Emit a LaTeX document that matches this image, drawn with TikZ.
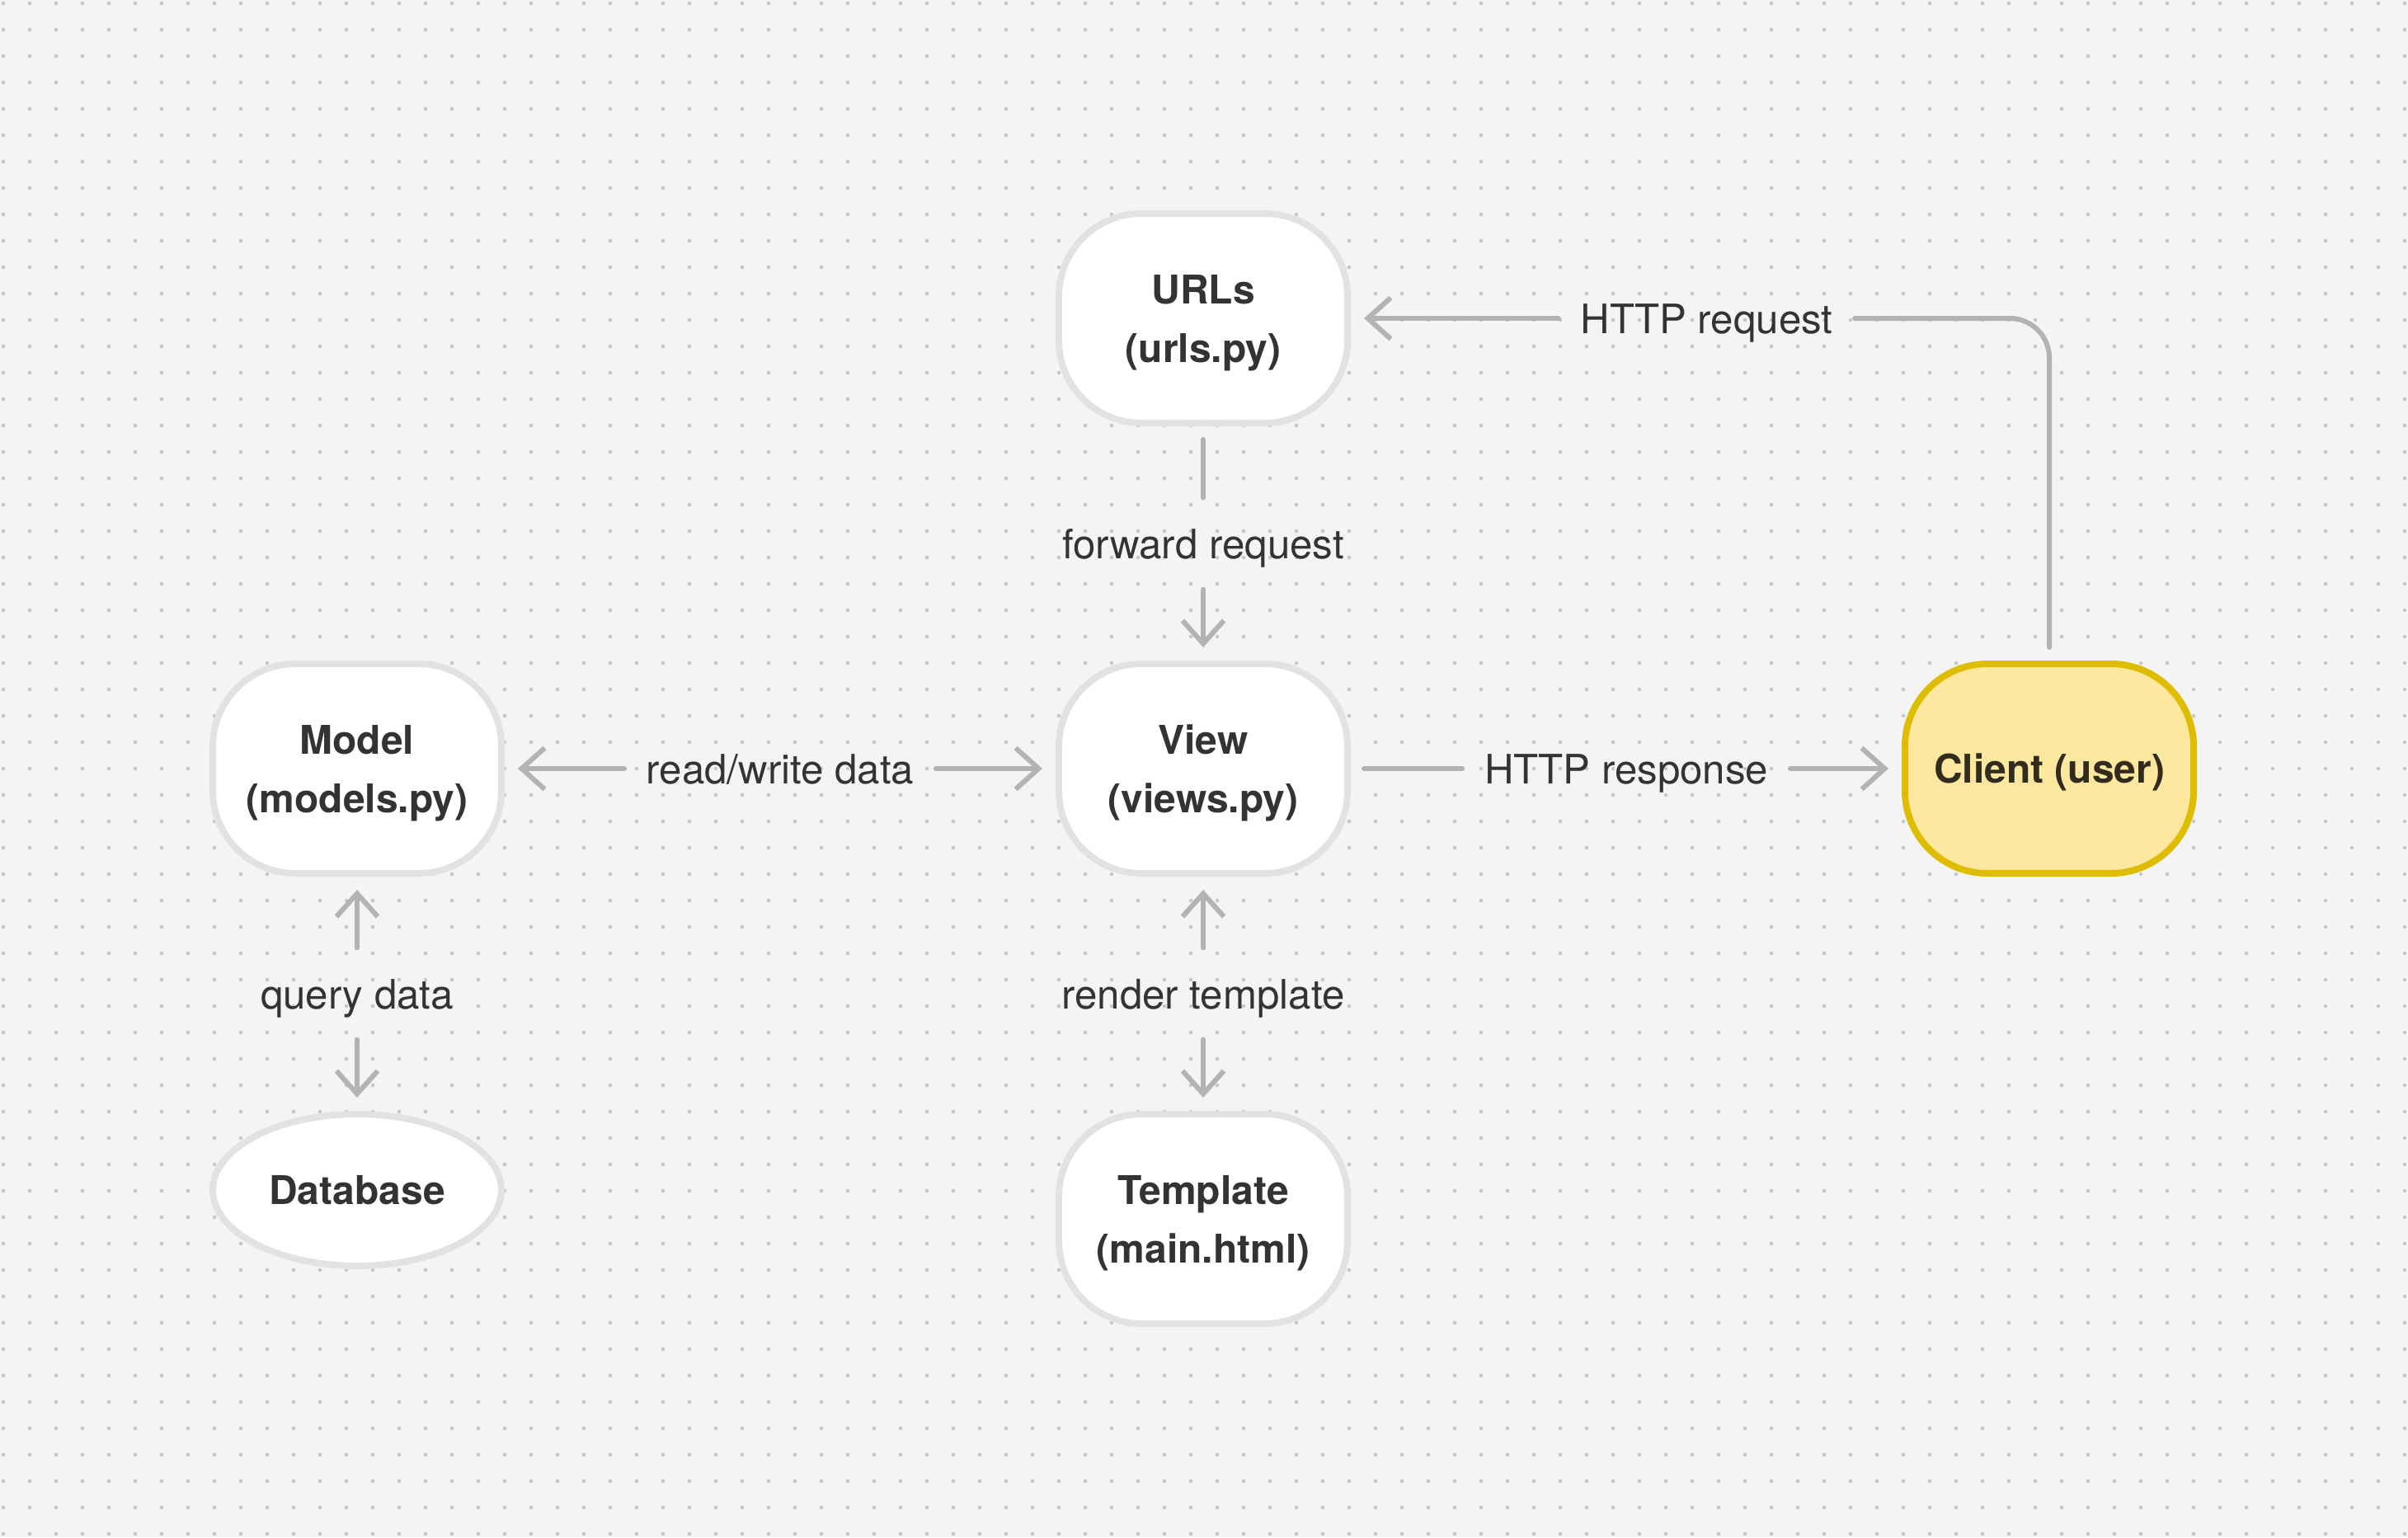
\documentclass[tikz,border=0pt]{standalone}
\usepackage{fontspec}
\setmainfont{TeX Gyre Heros}
\usepackage{xcolor}
\definecolor{bgcolor}{HTML}{F4F4F4}
\definecolor{dotcolor}{HTML}{C6C6C6}
\definecolor{boxbd}{HTML}{E2E2E2}
\definecolor{linegray}{HTML}{B3B3B3}
\definecolor{textdark}{HTML}{333333}
\definecolor{clientfill}{HTML}{FEE8A0}
\definecolor{clientbd}{HTML}{DEBC00}
\definecolor{clienttext}{HTML}{322C1F}
\usetikzlibrary{arrows.meta, positioning, shapes.geometric}

\begin{document}
\begin{tikzpicture}[
        node distance=63pt and 159pt,
        box_node/.style={rectangle, rounded corners=25pt, draw=boxbd, fill=white, line width=2pt, minimum width=87.5pt, minimum height=63.5pt, outer sep=5pt, align=center, text depth=0pt, text=textdark, font=\bfseries\fontsize{12}{17.75}\selectfont},
        client_node/.style={box_node, draw=clientbd, fill=clientfill, text=clienttext},
        db_node/.style={ellipse, draw=boxbd, fill=white, line width=2pt, minimum width=87.5pt, minimum height=46pt, inner sep=0pt, outer sep=5pt, text=textdark, font=\bfseries\fontsize{12}{17.75}\selectfont},
        label_node/.style={inner xsep=6.5pt, inner ysep=8pt, text height=10.2pt, text depth=1.2pt, text=textdark, font=\fontsize{12.3}{15}\selectfont},
        line/.style={draw=linegray, line width=1.5pt, line cap=round},
        arrow/.style={line, -{Straight Barb[length=7pt, width=12.5pt]}}
    ]

    % Canvas with dot grid
    \useasboundingbox (0,0) rectangle (730pt,-466pt);
    \fill[bgcolor] (0,0) rectangle (730pt,-466pt);
    \foreach \i in {0,...,91}
        \foreach \j in {0,...,58}
            \fill[dotcolor] (1pt+\i*8pt, -1pt-\j*8pt) circle (0.55pt);

    % Components
    \node[box_node] (view) at (364.75pt,-233pt) {View\\(views.py)};
    \node[box_node, above=of view] (urls) {URLs\\(urls.py)};
    \node[box_node, below=of view] (template) {Template\\(main.html)};
    \node[box_node, left=of view] (model) {Model\\(models.py)};
    \node[db_node, below=of model] (database) {Database};
    \node[client_node, right=of view] (client) {Client (user)};

    % Labels, halfway between the components
    \path (urls) -- node[label_node] (req) {HTTP request} (urls -| client);
    \path (urls) -- node[label_node] (fwd) {forward request} (view);
    \path (model) -- node[label_node] (rw) {read/write data} (view);
    \path (view) -- node[label_node] (resp) {HTTP response} (client);
    \path (model) -- node[label_node] (query) {query data} (database);
    \path (view) -- node[label_node] (render) {render template} (template);

    % Connections
    \draw[line, rounded corners=12pt] (client) |- (req);
    \draw[arrow] (req) -- (urls);
    \draw[line] (urls) -- (fwd);
    \draw[arrow] (fwd) -- (view);
    \draw[arrow] (rw) -- (model);
    \draw[arrow] (rw) -- (view);
    \draw[line] (view) -- (resp);
    \draw[arrow] (resp) -- (client);
    \draw[arrow] (query) -- (model);
    \draw[arrow] (query) -- (database);
    \draw[arrow] (render) -- (view);
    \draw[arrow] (render) -- (template);

\end{tikzpicture}
\end{document}
